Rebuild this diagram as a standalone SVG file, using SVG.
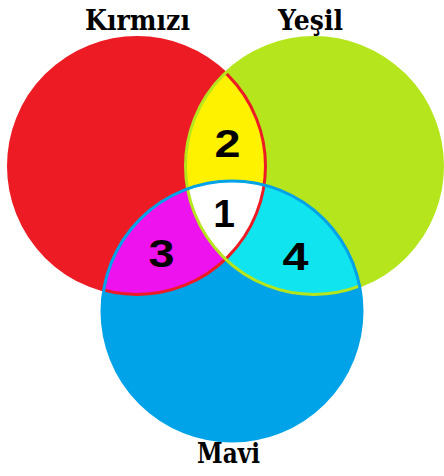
<svg xmlns="http://www.w3.org/2000/svg" width="444" height="476" viewBox="0 0 444 476">
<defs>
<clipPath id="cR"><circle cx="137" cy="166" r="128.5"/></clipPath>
<clipPath id="cG"><circle cx="314" cy="166" r="128.5"/></clipPath>
<clipPath id="cB"><circle cx="232" cy="311" r="130"/></clipPath>
<style>
.lbl{font-family:"DejaVu Serif","Liberation Serif",serif;font-weight:bold;font-size:28px;fill:#000;text-anchor:middle}
.num{font-family:"Liberation Sans",Arial,sans-serif;font-weight:bold;font-size:39px;fill:#000;text-anchor:middle}
.edge{fill:none;stroke-width:3}
</style>
</defs>
<rect width="444" height="476" fill="#fff"/>
<g id="kirmizi"><circle cx="137" cy="166" r="128.5" fill="#ED1C24"/></g>
<g id="yesil"><circle cx="314" cy="166" r="128.5" fill="#B5E61D"/></g>
<g id="mavi"><circle cx="232" cy="311" r="130" fill="#00A2E8"/></g>
<g id="bolge2" clip-path="url(#cR)"><circle cx="314" cy="166" r="128.5" fill="#FFF200"/></g>
<g id="bolge3" clip-path="url(#cR)"><circle cx="232" cy="311" r="130" fill="#EE12EE"/></g>
<g id="bolge4" clip-path="url(#cG)"><circle cx="232" cy="311" r="130" fill="#10E4EE"/></g>
<g id="bolge1" clip-path="url(#cR)"><g clip-path="url(#cG)"><circle cx="232" cy="311" r="130" fill="#FFFFFF"/></g></g>
<g id="kenarlar">
<circle class="edge" cx="137" cy="166" r="128.5" stroke="#ED1C24"/>
<circle class="edge" cx="314" cy="166" r="128.5" stroke="#B5E61D"/>
<circle class="edge" cx="232" cy="311" r="130" stroke="#00A2E8"/>
</g>
<g id="etiketler">
<text class="lbl" x="137.5" y="30" textLength="105" lengthAdjust="spacingAndGlyphs">Kırmızı</text>
<text class="lbl" x="310.5" y="30" textLength="65" lengthAdjust="spacingAndGlyphs">Yeşil</text>
<text class="lbl" x="228.5" y="463" textLength="63" lengthAdjust="spacingAndGlyphs">Mavi</text>
</g>
<g id="sayilar">
<text class="num" x="227.5" y="157" textLength="26" lengthAdjust="spacingAndGlyphs">2</text>
<text class="num" x="224" y="227">1</text>
<text class="num" x="161.5" y="267" textLength="26" lengthAdjust="spacingAndGlyphs">3</text>
<text class="num" x="295.5" y="270" textLength="26" lengthAdjust="spacingAndGlyphs">4</text>
</g>
</svg>
